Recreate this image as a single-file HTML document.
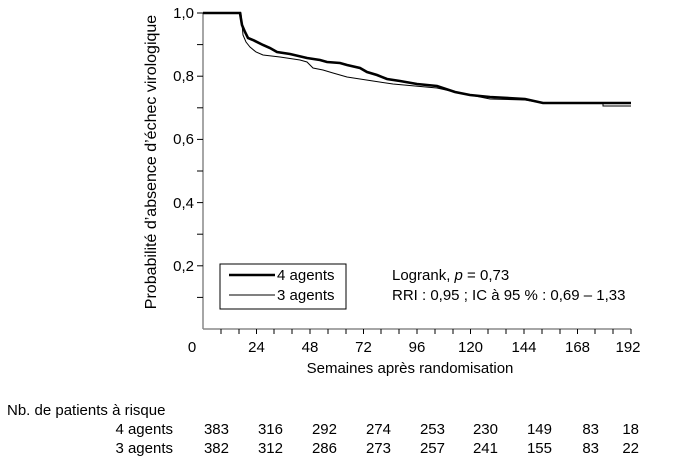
<!DOCTYPE html><html><head><style>body{margin:0;background:#fff}svg{font-family:"Liberation Sans",sans-serif}</style></head><body>
<svg width="675" height="463" viewBox="0 0 675 463" xmlns="http://www.w3.org/2000/svg">
<g stroke="#888" stroke-width="1.5" fill="none">
<line x1="203" y1="13" x2="203" y2="329"/><line x1="203" y1="329" x2="631" y2="329"/>
</g>
<g stroke="#000" stroke-width="1">
<line x1="197" y1="13" x2="203" y2="13"/><line x1="197" y1="44.6" x2="203" y2="44.6"/><line x1="197" y1="76.2" x2="203" y2="76.2"/><line x1="197" y1="107.8" x2="203" y2="107.8"/><line x1="197" y1="139.4" x2="203" y2="139.4"/><line x1="197" y1="171" x2="203" y2="171"/><line x1="197" y1="202.6" x2="203" y2="202.6"/><line x1="197" y1="234.2" x2="203" y2="234.2"/><line x1="197" y1="265.8" x2="203" y2="265.8"/><line x1="197" y1="297.4" x2="203" y2="297.4"/>
<line x1="221" y1="329" x2="221" y2="334"/><line x1="239" y1="329" x2="239" y2="334"/><line x1="256.5" y1="329" x2="256.5" y2="334"/><line x1="274" y1="329" x2="274" y2="334"/><line x1="292" y1="329" x2="292" y2="334"/><line x1="310" y1="329" x2="310" y2="334"/><line x1="328" y1="329" x2="328" y2="334"/><line x1="346" y1="329" x2="346" y2="334"/><line x1="363.5" y1="329" x2="363.5" y2="334"/><line x1="381" y1="329" x2="381" y2="334"/><line x1="399" y1="329" x2="399" y2="334"/><line x1="417" y1="329" x2="417" y2="334"/><line x1="435" y1="329" x2="435" y2="334"/><line x1="453" y1="329" x2="453" y2="334"/><line x1="470.5" y1="329" x2="470.5" y2="334"/><line x1="488" y1="329" x2="488" y2="334"/><line x1="506" y1="329" x2="506" y2="334"/><line x1="524" y1="329" x2="524" y2="334"/><line x1="542" y1="329" x2="542" y2="334"/><line x1="560" y1="329" x2="560" y2="334"/><line x1="577.5" y1="329" x2="577.5" y2="334"/><line x1="595" y1="329" x2="595" y2="334"/><line x1="613" y1="329" x2="613" y2="334"/><line x1="631" y1="329" x2="631" y2="334"/>
</g>
<g font-size="15" text-anchor="end" fill="#000">
<text x="194" y="18">1,0</text><text x="194" y="81">0,8</text><text x="194" y="144">0,6</text><text x="194" y="208">0,4</text><text x="194" y="271">0,2</text>
</g>
<g font-size="15" text-anchor="middle">
<text x="192" y="352">0</text><text x="256.5" y="352">24</text><text x="310" y="352">48</text><text x="363.5" y="352">72</text><text x="417" y="352">96</text><text x="470.5" y="352">120</text><text x="524" y="352">144</text><text x="577.5" y="352">168</text><text x="628" y="352">192</text>
<text x="410" y="373">Semaines après randomisation</text>
<text font-size="16" transform="translate(156,162) rotate(-90)">Probabilité d’absence d’échec virologique</text>
</g>
<polyline fill="none" stroke="#000" stroke-width="1" points="203,13 241,13 243,35 246,42 250,47 256,52 263,55 280,57 300,60 307,62 313,68 323,70 333,73 347,77 360,79 373,81 393,84 415,86 437,88 455,92 470,95 490,99 525,100 543,103 603,103 603,106 631,106"/>
<polyline fill="none" stroke="#000" stroke-width="2.6" points="203,13 240,13 242,25 245,32 248,38 253,40 263,45 270,48 277,52 290,54 307,58 320,60 327,62 340,63 347,65 360,68 367,72 377,75 387,79 400,81 417,84 437,86 455,92 470,95 490,97 525,99 543,103 631,103"/>
<rect x="220" y="264" width="126" height="45" fill="#fff" stroke="#000" stroke-width="1"/>
<line x1="229" y1="275" x2="275" y2="275" stroke="#000" stroke-width="2.6"/>
<line x1="229" y1="295" x2="275" y2="295" stroke="#000" stroke-width="1"/>
<g font-size="15"><text x="277" y="280">4 agents</text><text x="277" y="300">3 agents</text>
<text x="392" y="280">Logrank, <tspan font-style="italic">p</tspan> = 0,73</text>
<text x="392" y="300">RRI : 0,95 ; IC à 95 % : 0,69 – 1,33</text>
<text x="7" y="415">Nb. de patients à risque</text></g>
<g font-size="15" text-anchor="end">
<text x="173" y="434">4 agents</text><text x="173" y="453">3 agents</text>
<text x="229" y="434">383</text><text x="283" y="434">316</text><text x="337" y="434">292</text><text x="391" y="434">274</text><text x="445" y="434">253</text><text x="498" y="434">230</text><text x="552" y="434">149</text><text x="599" y="434">83</text><text x="639" y="434">18</text>
<text x="229" y="453">382</text><text x="283" y="453">312</text><text x="337" y="453">286</text><text x="391" y="453">273</text><text x="445" y="453">257</text><text x="498" y="453">241</text><text x="552" y="453">155</text><text x="599" y="453">83</text><text x="639" y="453">22</text>
</g>
</svg></body></html>
